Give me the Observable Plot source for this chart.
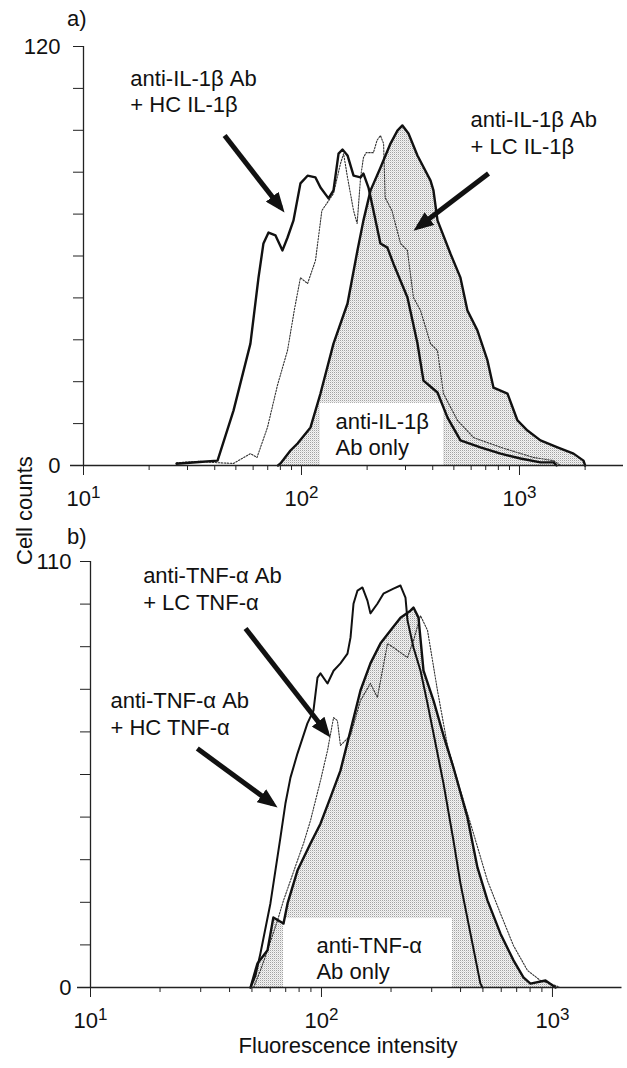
<!DOCTYPE html>
<html><head><meta charset="utf-8">
<script src="https://cdn.jsdelivr.net/npm/d3@7"></script>
<script src="https://cdn.jsdelivr.net/npm/@observablehq/plot@0.6"></script>
<style>
body{margin:0;background:#fff;}
#wrap{position:relative;width:627px;height:1068px;font-family:"Liberation Sans",Arial,sans-serif;color:#111;overflow:hidden;}
#wrap svg{position:absolute;left:0;}
.lbl{position:absolute;font-size:22px;line-height:22px;white-space:nowrap;}
</style></head><body><div id="wrap"></div>
<script>
// ---------- Panel a) IL-1β : [fluorescence intensity, cell count] ----------
const il1bHC = [[26.7,0.5],[34,1],[41.2,1.4],[48.8,15.8],[58.3,34.9],[63.5,53.8],[66.9,63.6],[70.6,66.7],[76,65.9],[81.8,61.6],[86.3,65.3],[91.9,70.2],[98.9,80.8],[106.6,83],[115.9,82.5],[122.2,79.6],[133,76.5],[140.2,78.8],[147.9,89.3],[154.2,90.5],[162.6,88.8],[173.3,83],[186.6,82.5],[192.4,83.6],[202.9,79.6],[213.8,73],[230.2,63.6],[247.8,62.4],[264.1,57.8],[306.3,48.1],[340.3,35],[362.7,24.3],[420.6,20.9],[467.7,13.7],[536,7.2],[662,5.2],[819,3.4],[1011,2],[1248,0.9],[1432,0.9],[1480,0]];
const il1bLC = [[26.7,0.8],[34,1.2],[41,0.8],[48.8,0.6],[58.3,3.4],[62.5,2.3],[69.8,10.9],[77.6,23],[86.3,33],[93,45],[98.9,53.8],[106.6,52.1],[115.9,58.7],[124,73],[140.2,77.9],[151,86.5],[156,89.3],[162.6,82.5],[173.3,73],[180,69.3],[186.6,82.5],[192.4,88.2],[198,89.6],[213.8,89.6],[222,93.1],[230.2,94.5],[238,92.2],[242,76.7],[260,73],[284.6,63.6],[306,61.6],[326.3,48.1],[351.6,44.4],[390.8,34.9],[420.6,32.9],[448,20.6],[519.6,12.9],[615.6,8],[819,5.2],[1159,2.3],[1432,1.4],[1542,0]];
const il1bAbOnly = [[78,0],[80.1,0.6],[89,4.3],[95.9,6.3],[110,10.9],[122.2,20.6],[140.2,34.9],[162.6,46.4],[180.6,61.6],[192.4,70.2],[207.4,78.8],[230.2,85.3],[256,92.2],[275.5,95.9],[290.4,97.4],[309.6,95.1],[340.3,88.8],[390.8,81.6],[403,78.8],[420.6,70.2],[482,60.7],[536,53.8],[577,44.4],[641,38.7],[713,30.1],[760,22.3],[881,20.6],[979,12.9],[1088,10],[1248,7.2],[1494,5.2],[1770,3.4],[1966,1.4],[2000,0]];

// ---------- Panel b) TNF-α ----------
const tnfHC = [[49.3,0],[51.8,3.1],[54.4,8.8],[60.1,21.7],[66.4,38.7],[69.8,47.5],[73.4,54.2],[78.7,60.4],[86.9,68.2],[92.3,71.5],[96.1,80],[99,81.1],[106.2,78.5],[112.8,81.8],[120.8,83.7],[129.6,86.2],[133.6,90.4],[137.6,99.1],[143.2,102.5],[150.4,103.3],[158.1,99.9],[162.9,96.6],[174.6,99.1],[185.4,101.7],[205,103],[219.8,103.8],[231,100.7],[235.7,94.8],[250.2,87.8],[268.4,81.8],[287.8,73.3],[305.5,65.6],[337.4,52.7],[372.6,38],[399.6,26.9],[441.6,13.9],[487.6,1],[498,0]];
const tnfLC = [[50.8,0],[54.4,4.4],[58.4,9.6],[64.5,17.3],[68.5,22.5],[73.4,27.6],[78.7,32.8],[83.6,37.2],[89.6,43.1],[99,53.4],[106.2,61.2],[112.8,69.7],[117.2,68.9],[120.8,62.5],[133.6,65.1],[147.5,74.1],[162.9,78.5],[174.6,74.9],[193.1,88.8],[205,87.8],[235.7,85.2],[250.2,89.6],[268.4,96],[287.8,92.2],[317.8,76.7],[351.1,62.5],[399.6,50.9],[455,39.8],[523,27.6],[595.5,19.1],[678,10.8],[779.6,4.4],[887,1.8],[1031,0.5],[1080,0]];
const tnfAbOnly = [[49.3,0],[52.8,6.2],[58.4,9.6],[61.9,18.1],[68.5,16.5],[71.3,21.7],[78.7,30.2],[89.6,37.2],[99,42.3],[109.4,49.1],[120.8,56],[133.6,66.4],[147.5,76.7],[162.9,83.7],[179.9,88.8],[198.9,92.2],[219.8,95.5],[242.7,97.3],[250.2,98.1],[263,95.5],[276.5,81.8],[305.5,74.1],[337.4,65.1],[372.6,56.8],[428.5,43.9],[473.4,31],[523.1,22.5],[595.5,13.9],[678,7],[748.6,2.6],[803,1],[933,1.8],[1031,0]];

// ---------- ticks ----------
const majorTicks = [10, 100, 1000];
const majorLabels = {10: "10¹", 100: "10²", 1000: "10³"};
const minorTicksA = [20,30,40,50,60,70,80,90,200,300,400,500,600,700,800,900,2000];
const minorTicksB = [20,30,40,50,60,70,80,90,200,300,400,500,600,700,800,900];
const yTicksA = d3.range(0, 121, 12);
const yTicksB = d3.range(0, 111, 11);

// ---------- annotations ----------
const labelsA = [
  {x: 16.4, y: 101.1, text: "anti-IL-1β Ab\n+ HC IL-1β"},
  {x: 596, y: 89.3, text: "anti-IL-1β Ab\n+ LC IL-1β"},
  {x: 143.3, y: 2.9, text: "anti-IL-1β\nAb only"}
];
const boxA = [{x1: 122, x2: 448, y1: 0, y2: 17.8}];
const arrowsA = [
  {x1: 44.4, y1: 94.5, x2: 80.4, y2: 73.8},
  {x1: 721, y1: 83.6, x2: 343.5, y2: 68.3}
];
const labelsB = [
  {x: 16.9, y: 97.6, text: "anti-TNF-α Ab\n+ LC TNF-α"},
  {x: 12.2, y: 65.3, text: "anti-TNF-α Ab\n+ HC TNF-α"},
  {x: 95.1, y: 2.1, text: "anti-TNF-α\nAb only"}
];
const boxB = [{x1: 68.5, x2: 369, y1: 0, y2: 17.8}];
const arrowsB = [
  {x1: 46.9, y1: 92.7, x2: 105.4, y2: 65.8},
  {x1: 29.0, y1: 61.7, x2: 61.5, y2: 47.4}
];

const FONT = '"Liberation Sans", Arial, sans-serif';
const INK = "#111";

function panel({width, height, mt, mb, ml, mr, xDomain, yDomain, minor, yTicks, yPad, hc, lc, ab, labels, box, arrows, hcWidth, pid}) {
  const svg = Plot.plot({
    width, height, marginTop: mt, marginBottom: mb, marginLeft: ml, marginRight: mr,
    x: {type: "log", domain: xDomain},
    y: {domain: yDomain},
    style: {fontFamily: FONT, fontSize: "22px", color: INK, background: "transparent", overflow: "visible"},
    marks: [
      Plot.areaY(ab, {x: d => d[0], y: d => d[1], fill: `url(#stip${pid})`}),
      Plot.rect(box, {x1: "x1", x2: "x2", y1: "y1", y2: "y2", fill: "white"}),
      Plot.line(lc, {x: d => d[0], y: d => d[1], stroke: "#333", strokeWidth: 1.1, strokeDasharray: "1.5,1.5"}),
      Plot.line(hc, {x: d => d[0], y: d => d[1], stroke: INK, strokeWidth: hcWidth}),
      Plot.line(ab, {x: d => d[0], y: d => d[1], stroke: INK, strokeWidth: 2.4}),
      Plot.text(labels, {x: "x", y: "y", text: "text", textAnchor: "start", lineAnchor: "bottom", lineHeight: 1.2, fontSize: 22, fill: INK}),
      Plot.link(arrows, {x1: "x1", y1: "y1", x2: "x2", y2: "y2", stroke: INK, strokeWidth: 5}),
      Plot.ruleY([0], {stroke: "#222", strokeWidth: 1.3, insetLeft: -13}),
      Plot.ruleX([xDomain[0]], {stroke: "#222", strokeWidth: 1.3}),
      Plot.axisX(minor, {tickSize: 5, tickFormat: () => "", stroke: "#222", label: null}),
      Plot.axisX(majorTicks, {tickSize: 10, tickPadding: 15, tickFormat: d => majorLabels[d], stroke: "#222", label: null}),
      Plot.axisY(yTicks, {tickSize: 10, tickPadding: yPad, stroke: "#222", label: null,
        tickFormat: d => (d === yDomain[0] || d === yDomain[1]) ? String(d) : ""})
    ]
  });
  const ns = "http://www.w3.org/2000/svg";
  const id = "ah" + pid;
  const defs = document.createElementNS(ns, "defs");
  defs.innerHTML =
    `<marker id="${id}" viewBox="0 0 20 16" refX="14" refY="8" markerWidth="20" markerHeight="16" markerUnits="userSpaceOnUse" orient="auto"><path d="M0,0L20,8L0,16Z" fill="${INK}"/></marker>` +
    `<pattern id="stip${pid}" width="2" height="2" patternUnits="userSpaceOnUse">` +
    `<rect width="2" height="2" fill="#f4f4f4"/><rect width="1" height="1" fill="#a2a2a2"/><rect x="1" y="1" width="1" height="1" fill="#dadada"/></pattern>`;
  svg.insertBefore(defs, svg.firstChild);
  svg.querySelectorAll('g[aria-label="link"] path, g[aria-label="link"] line').forEach(p => p.setAttribute("marker-end", `url(#${id})`));
  // real superscripts on the decade labels
  svg.querySelectorAll("text").forEach(t => {
    const m = /^10([¹²³])$/.exec(t.textContent.trim());
    if (!m) return;
    const digit = {"¹": "1", "²": "2", "³": "3"}[m[1]];
    while (t.firstChild) t.removeChild(t.firstChild);
    const base = document.createElementNS(ns, "tspan");
    base.textContent = "10";
    const ts = document.createElementNS(ns, "tspan");
    ts.setAttribute("dy", "-8");
    ts.setAttribute("font-size", "17px");
    ts.textContent = digit;
    t.appendChild(base);
    t.appendChild(ts);
  });
  return svg;
}

const wrap = document.getElementById("wrap");

const svgA = panel({width: 627, height: 510, mt: 46, mb: 45, ml: 83, mr: 4,
  xDomain: [10, 3000], yDomain: [0, 120], minor: minorTicksA, yTicks: yTicksA, yPad: 13,
  hc: il1bHC, lc: il1bLC, ab: il1bAbOnly, labels: labelsA, box: boxA, arrows: arrowsA, hcWidth: 2.4, pid: "a"});
svgA.style.top = "0px";
wrap.appendChild(svgA);

const svgB = panel({width: 627, height: 548, mt: 41, mb: 81, ml: 90, mr: 5.5,
  xDomain: [10, 2000], yDomain: [0, 110], minor: minorTicksB, yTicks: yTicksB, yPad: 9,
  hc: tnfHC, lc: tnfLC, ab: tnfAbOnly, labels: labelsB, box: boxB, arrows: arrowsB, hcWidth: 2, pid: "b"});
svgB.style.top = "520px";
wrap.appendChild(svgB);

function addLabel(text, left, top, extra) {
  const d = document.createElement("div");
  d.className = "lbl";
  d.textContent = text;
  d.style.left = left + "px";
  d.style.top = top + "px";
  if (extra) Object.assign(d.style, extra);
  wrap.appendChild(d);
}
addLabel("a)", 67, 8);
addLabel("b)", 67, 526);
addLabel("Cell counts", 14, 565, {transform: "rotate(-90deg)", transformOrigin: "left top"});
addLabel("Fluorescence intensity", 348, 1035, {transform: "translateX(-50%)"});
</script></body></html>
